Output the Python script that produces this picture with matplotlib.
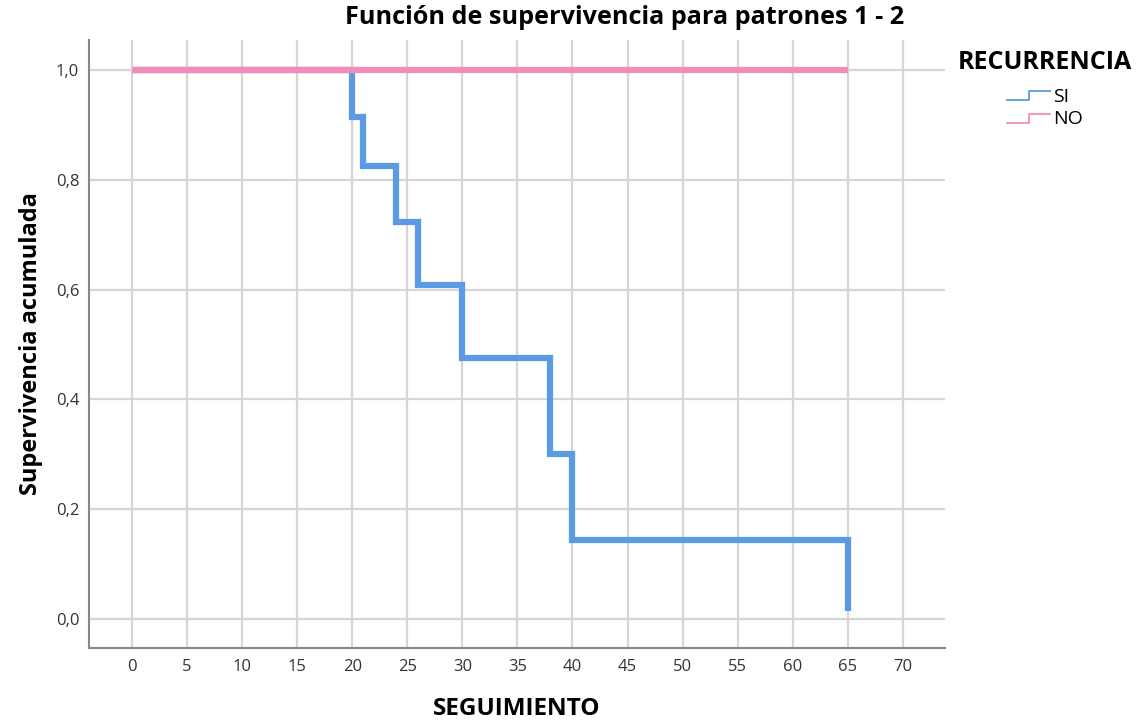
import matplotlib
matplotlib.use("Agg")
import matplotlib.pyplot as plt
from matplotlib.legend_handler import HandlerLine2D
from matplotlib.lines import Line2D

plt.rcParams['font.family'] = ['Open Sans', 'DejaVu Sans']

# curva de supervivencia por grupo (tiempos de evento y supervivencia acumulada)
si_tiempo = [0, 20, 21, 24, 26, 30, 38, 40, 65]
si_superv = [1.0, 0.914, 0.826, 0.723, 0.609, 0.476, 0.300, 0.143, 0.015]
no_tiempo = [0, 65]
no_superv = [1.0, 1.0]

grupos = ['SI', 'NO']
colores = ['#5b9be6', '#f48cba']

x_ticks = list(range(0, 75, 5))
y_ticks = [0.0, 0.2, 0.4, 0.6, 0.8, 1.0]
y_labels = ['0,0', '0,2', '0,4', '0,6', '0,8', '1,0']


class HandlerStep(HandlerLine2D):
    # icono escalonado para la leyenda
    def create_artists(self, legend, orig, xdescent, ydescent, width, height, fontsize, trans):
        xs = [0, width * 0.5, width * 0.5, width]
        ys = [height * 0.1, height * 0.1, height * 0.8, height * 0.8]
        ln = Line2D(xs, ys, color=orig.get_color(), lw=1.3)
        ln.set_transform(trans)
        return [ln]


fig = plt.figure(figsize=(11.44, 7.23), dpi=100)
ax = fig.add_axes([0.0778, 0.1037, 0.748, 0.841])

# curva SI (escalonada) y curva NO encima
ax.step(si_tiempo, si_superv, where='post', color=colores[0], lw=4.5, solid_capstyle='butt',
        solid_joinstyle='miter', zorder=3)
ax.step(no_tiempo, no_superv, where='post', color=colores[1], lw=4.5, solid_capstyle='butt', zorder=4)

ax.set_xlim(-3.9, 73.8)
ax.set_ylim(-0.053, 1.055)
ax.set_xticks(x_ticks)
ax.set_yticks(y_ticks)
ax.set_yticklabels(y_labels)
ax.tick_params(length=0, labelsize=12, colors='#333333')
ax.tick_params(axis='x', pad=8)
ax.tick_params(axis='y', pad=7)
ax.grid(True, color='#d6d6d6', lw=1.6)
ax.set_axisbelow(True)
for s in ['top', 'right']:
    ax.spines[s].set_visible(False)
for s in ['left', 'bottom']:
    ax.spines[s].set_color('#888888')
    ax.spines[s].set_linewidth(1.5)

fig.text(0.546, 1 - 18 / 723, 'Función de supervivencia para patrones 1 - 2',
         fontsize=18.2, fontweight='bold', ha='center', va='center')
ax.set_xlabel('SEGUIMIENTO', fontsize=17.5, fontweight='bold', labelpad=16)
ax.set_ylabel('Supervivencia acumulada', fontsize=17, fontweight='bold', labelpad=9)

handles = [Line2D([], [], color=c) for c in colores]
leg = fig.legend(handles, grupos, title='RECURRENCIA', loc='upper left',
                 bbox_to_anchor=(0.822, 0.955), frameon=False, fontsize=14,
                 title_fontproperties={'weight': 'bold', 'size': 18},
                 handler_map={Line2D: HandlerStep()}, handlelength=2.2,
                 handletextpad=0.15, labelspacing=0.25)
leg._legend_box.sep = 9

fig.savefig('out.png', dpi=100)
